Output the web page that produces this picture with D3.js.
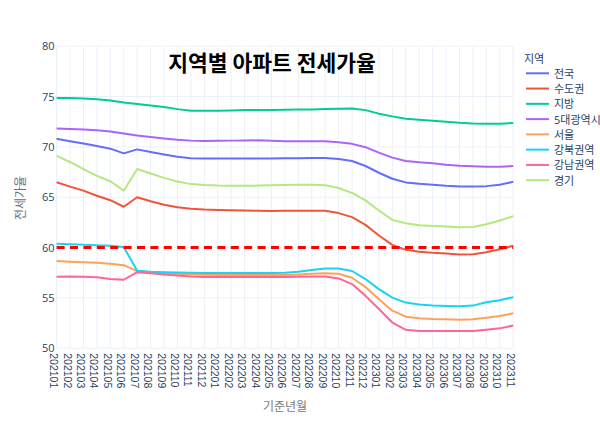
<!DOCTYPE html>
<html><head><meta charset="utf-8">
<script src="https://cdn.jsdelivr.net/npm/d3@7"></script>
<style>
body{margin:0;background:#fff;}
svg{display:block;font-family:"Open Sans","Noto Sans CJK KR",sans-serif;}
</style></head>
<body><svg id="c" width="600" height="421"></svg>
<script>
const months = ["202101","202102","202103","202104","202105","202106","202107","202108","202109","202110","202111","202112",
"202201","202202","202203","202204","202205","202206","202207","202208","202209","202210","202211","202212",
"202301","202302","202303","202304","202305","202306","202307","202308","202309","202310","202311"];
const seriesNames = ["전국","수도권","지방","5대광역시","서울","강북권역","강남권역","경기"];
const jeonguk = [70.8,70.55,70.33,70.08,69.82,69.35,69.75,69.5,69.25,69.02,68.87,68.85,68.85,68.85,68.85,68.85,68.85,68.86,68.87,68.89,68.9,68.8,68.6,68.1,67.43,66.83,66.47,66.33,66.23,66.13,66.07,66.07,66.1,66.23,66.53];
const sudogwon = [66.48,66.05,65.65,65.15,64.7,64.05,65.0,64.6,64.25,64.0,63.85,63.77,63.73,63.7,63.67,63.65,63.63,63.65,63.65,63.65,63.65,63.42,63.02,62.25,61.2,60.27,59.77,59.57,59.47,59.4,59.3,59.33,59.53,59.83,60.17];
const jibang = [74.85,74.85,74.8,74.72,74.6,74.4,74.25,74.1,73.95,73.75,73.58,73.58,73.6,73.62,73.65,73.66,73.67,73.68,73.7,73.72,73.75,73.78,73.8,73.65,73.3,73.03,72.8,72.7,72.6,72.5,72.4,72.33,72.3,72.3,72.37];
const metro5 = [71.82,71.78,71.73,71.66,71.52,71.32,71.13,70.98,70.83,70.7,70.62,70.58,70.6,70.62,70.63,70.65,70.6,70.55,70.55,70.55,70.55,70.45,70.3,69.97,69.43,68.93,68.6,68.47,68.37,68.23,68.13,68.07,68.03,68.03,68.1];
const seoul = [58.65,58.6,58.55,58.5,58.4,58.25,57.65,57.55,57.45,57.4,57.35,57.3,57.28,57.28,57.28,57.28,57.28,57.28,57.33,57.4,57.45,57.4,57.0,56.07,54.87,53.73,53.13,52.97,52.9,52.87,52.83,52.87,53.03,53.2,53.47];
const gangbuk = [60.38,60.33,60.28,60.23,60.18,60.05,57.7,57.6,57.55,57.52,57.5,57.47,57.47,57.47,57.47,57.47,57.48,57.5,57.6,57.77,57.92,57.92,57.67,56.87,55.87,55.03,54.53,54.33,54.23,54.2,54.17,54.23,54.57,54.77,55.07];
const gangnam = [57.1,57.12,57.1,57.05,56.88,56.8,57.55,57.45,57.33,57.22,57.13,57.08,57.07,57.07,57.07,57.07,57.07,57.07,57.1,57.12,57.12,56.93,56.37,55.2,53.9,52.55,51.83,51.72,51.7,51.7,51.7,51.7,51.83,51.97,52.25];
const gyeonggi = [69.1,68.5,67.8,67.12,66.58,65.65,67.8,67.35,66.92,66.55,66.3,66.2,66.15,66.13,66.13,66.15,66.18,66.22,66.23,66.23,66.18,65.92,65.42,64.68,63.68,62.75,62.42,62.22,62.15,62.08,62.02,62.05,62.32,62.68,63.12];
const seriesValues = [jeonguk,sudogwon,jibang,metro5,seoul,gangbuk,gangnam,gyeonggi];
const colors = ["#636efa","#EF553B","#00cc96","#ab63fa","#FFA15A","#19d3f3","#FF6692","#B6E880"];
const yTicks = [50,55,60,65,70,75,80];
const refLine = 60;

const svg = d3.select("#c");
const L=56.6,R=513.2,T=46.2,B=348.2;
const x = d3.scalePoint().domain(months).range([L,R]);
const y = d3.scaleLinear().domain([50,80]).range([B,T]);
const tickColor="#2a3f5f";

// grid
const g = svg.append("g");
g.selectAll("line.vx").data(months).join("line")
 .attr("x1",d=>x(d)).attr("x2",d=>x(d)).attr("y1",T).attr("y2",B)
 .attr("stroke","#ebf0f8").attr("stroke-width",1);
g.selectAll("line.hy").data(yTicks).join("line")
 .attr("x1",L).attr("x2",R).attr("y1",d=>y(d)).attr("y2",d=>y(d))
 .attr("stroke","#ebf0f8").attr("stroke-width",1);

// y axis labels
const ya = svg.append("g").attr("transform",`translate(${L},0)`)
 .call(d3.axisLeft(y).tickValues(yTicks).tickSize(0).tickPadding(2));
ya.select(".domain").remove();
ya.selectAll("text").attr("fill",tickColor).style("font-size","11px").style("font-family",'"Open Sans",sans-serif');

// x axis labels
const xa = svg.append("g").attr("transform",`translate(0,${B})`)
 .call(d3.axisBottom(x).tickSize(0));
xa.select(".domain").remove();
xa.selectAll("text").attr("fill",tickColor).style("font-size","10.5px")
 .attr("transform","rotate(90)").attr("x",5).attr("y",3)
 .attr("dy",null).attr("text-anchor","start").attr("dominant-baseline","central");

// lines
const line = d3.line().x((d,i)=>x(months[i])).y(d=>y(d));
seriesValues.forEach((vals,k)=>{
  svg.append("path").datum(vals).attr("d",line).attr("fill","none")
   .attr("stroke",colors[k]).attr("stroke-width",2).attr("stroke-linejoin","round");
});

// reference line
svg.append("line").attr("x1",L).attr("x2",R).attr("y1",y(refLine)).attr("y2",y(refLine))
 .attr("stroke","#ff0000").attr("stroke-width",3).attr("stroke-dasharray","8,5.4");

// title
svg.append("text").attr("x",272).attr("y",61).attr("text-anchor","middle")
 .attr("dominant-baseline","central").attr("fill","#000").style("font-size","21.5px")
 .style("font-weight","bold").style("font-family",'"Noto Sans CJK KR",sans-serif').text("지역별 아파트 전세가율");

// axis titles
svg.append("text").attr("x",285).attr("y",406).attr("text-anchor","middle").attr("dominant-baseline","central")
 .attr("fill","#7a7a7a").style("font-size","12px").text("기준년월");
svg.append("text").attr("transform","translate(20,198) rotate(-90)").attr("text-anchor","middle").attr("dominant-baseline","central")
 .attr("fill","#5f6f86").style("font-size","12px").text("전세가율");

// legend
const lg = svg.append("g");
lg.append("text").attr("x",524).attr("y",58).attr("dominant-baseline","central")
 .attr("fill",tickColor).style("font-size","11px").text("지역");
seriesNames.forEach((n,k)=>{
  const yy = 73.3 + k*15.27;
  lg.append("line").attr("x1",526).attr("x2",549).attr("y1",yy).attr("y2",yy)
   .attr("stroke",colors[k]).attr("stroke-width",2);
  lg.append("text").attr("x",554).attr("y",yy).attr("dominant-baseline","central")
   .attr("fill",tickColor).style("font-size","11px").text(n);
});
</script></body></html>
